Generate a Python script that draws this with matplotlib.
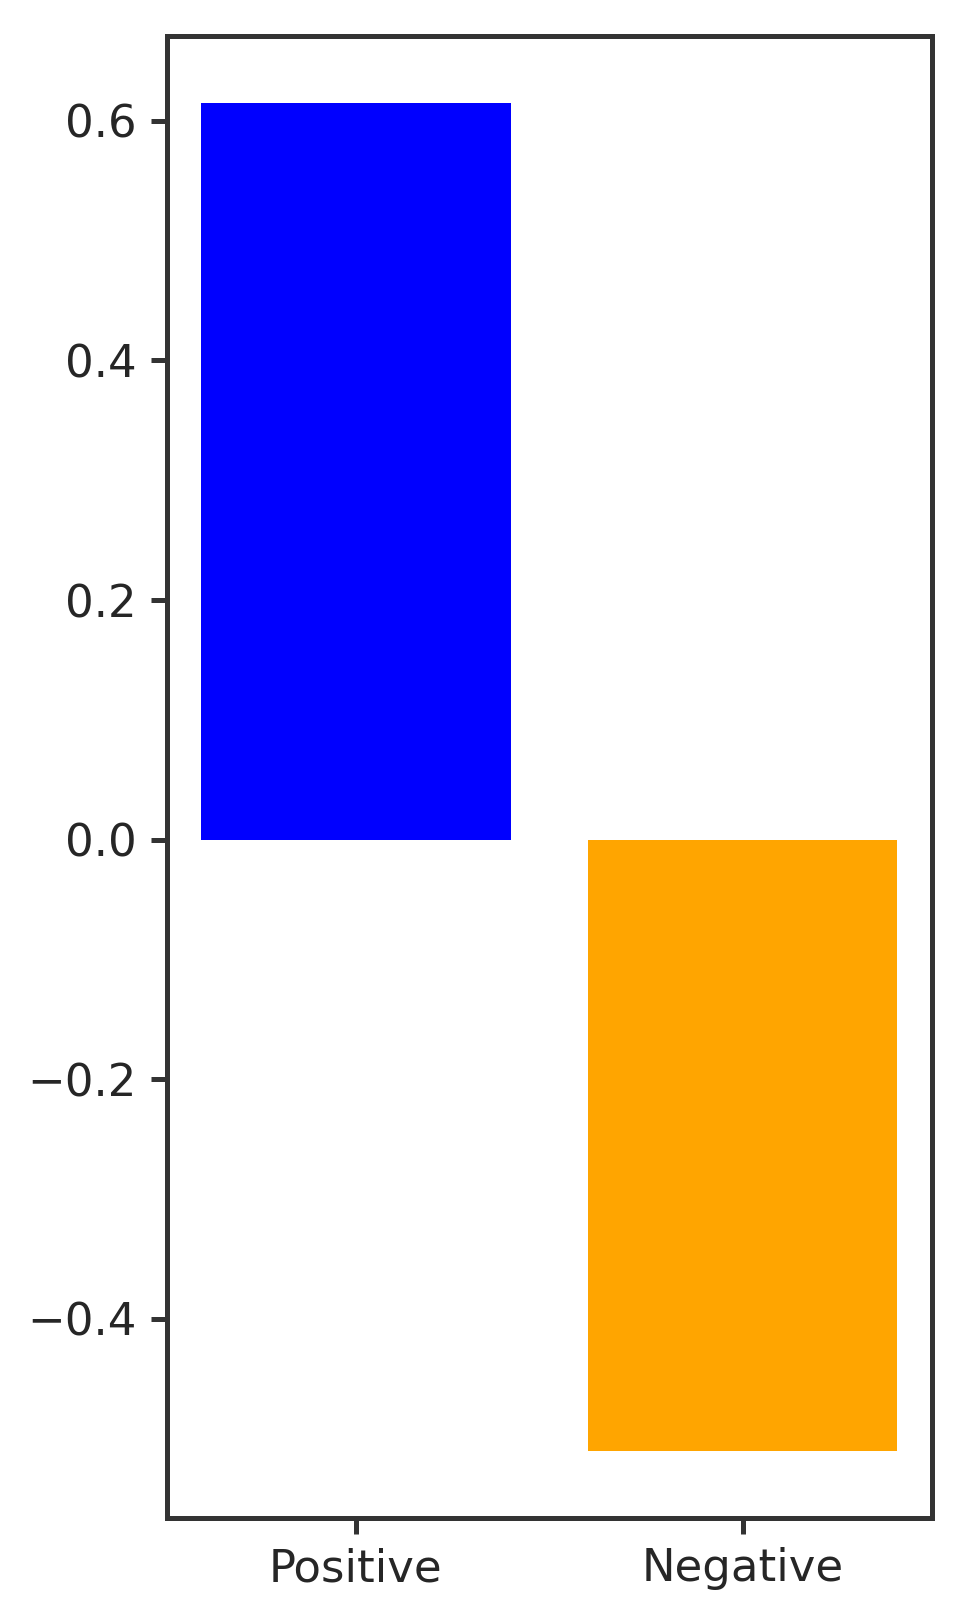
import matplotlib
matplotlib.use('Agg')
import matplotlib.pyplot as plt

categories = ['Positive', 'Negative']
values = [0.615, -0.510]
colors = ['blue', 'orange']

plt.rcParams['font.family'] = ['DejaVu Sans']

fig = plt.figure(figsize=(2.43, 4.0575), dpi=400)
ax = fig.add_axes([0.1713, 0.0647, 0.7875, 0.9134])

ax.bar(categories, values, color=colors, width=0.8)

for s in ax.spines.values():
    s.set_color('#333333')
    s.set_linewidth(0.9)

ax.set_yticks([-0.4, -0.2, 0.0, 0.2, 0.4, 0.6])
ax.tick_params(axis='both', colors='#333333', labelcolor='#262626',
               labelsize=8.1, width=0.9, length=2.8, pad=2.5)

fig.savefig('out.png', dpi=400)
